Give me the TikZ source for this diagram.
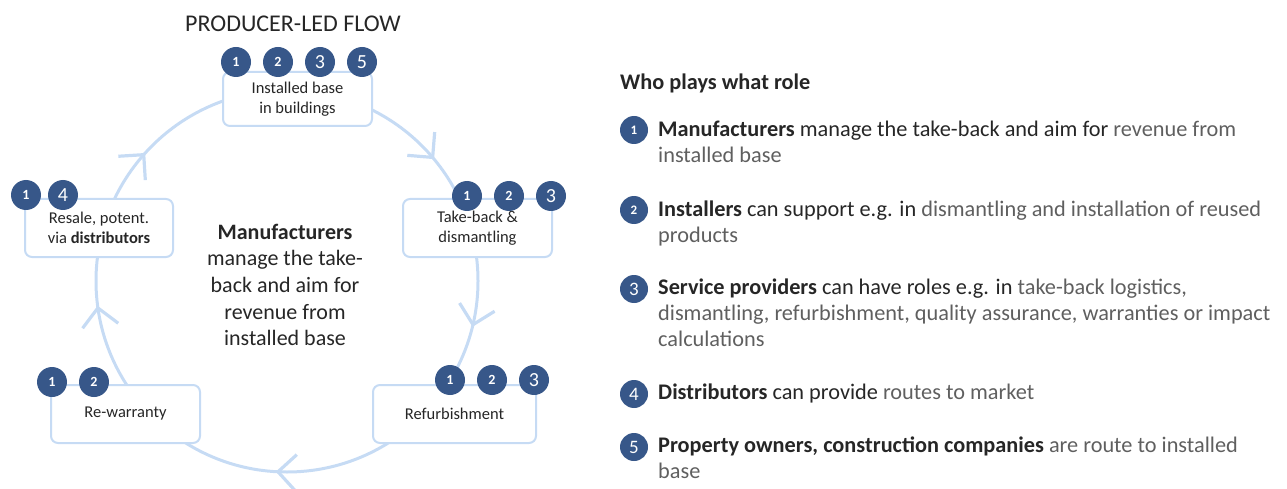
\documentclass[tikz,border=0pt]{standalone}
\usepackage{fontspec}
\setmainfont{Carlito}
\usetikzlibrary{decorations.markings}
\definecolor{ringblue}{RGB}{198,219,244}
\definecolor{badgeblue}{RGB}{55,87,137}
\definecolor{inkdark}{RGB}{38,38,38}
\definecolor{inkgrey}{RGB}{95,95,95}

\begin{document}
\begin{tikzpicture}[x=1pt,y=1pt,
  ring/.style={draw=ringblue, line width=3pt},
  chev/.style={draw=ringblue, line width=3.2pt},
  stage/.style={draw=ringblue, line width=2pt, fill=white, rounded corners=7pt,
    align=center, text=inkdark, inner sep=0pt,
    font=\fontsize{16.5}{20.5}\selectfont},
  badge/.style={circle, fill=badgeblue, text=white, minimum size=30pt, inner sep=0pt},
  nsmall/.style={badge, font=\fontsize{14}{14}\selectfont\bfseries},
  nlarge/.style={badge, font=\fontsize{20}{20}\selectfont},
  lsmall/.style={nsmall, minimum size=28pt, font=\fontsize{13}{13}\selectfont\bfseries},
  llarge/.style={nlarge, minimum size=28pt, font=\fontsize{19}{19}\selectfont},
  legend/.style={anchor=north west, align=left, inner sep=0pt, text=inkdark,
    font=\fontsize{22.3}{26}\selectfont},
]
\useasboundingbox (0,0) rectangle (1287,488);

% title
\node[text=inkdark, font=\fontsize{24}{24}\selectfont] (title) at (293,464) {PRODUCER-LED FLOW};

% circular flow with open chevrons (clockwise)
\draw[ring, postaction={decorate}, decoration={markings,
    mark=at position 0.0367 with {\draw[chev] (-18,18) -- (0,0) -- (-18,-18);},
    mark=at position 0.2575 with {\draw[chev] (-18,18) -- (0,0) -- (-18,-18);},
    mark=at position 0.4775 with {\draw[chev] (-18,18) -- (0,0) -- (-18,-18);},
    mark=at position 0.615 with {\draw[chev] (-18,18) -- (0,0) -- (-18,-18);},
    mark=at position 0.888 with {\draw[chev] (-18,18) -- (0,0) -- (-18,-18);}}]
  (478,207) arc[start angle=0, end angle=-360, radius=191];

% stages
\node[stage, minimum width=149pt, minimum height=54pt] (ib) at (297.5,389) {Installed base\\in buildings};
\node[stage, minimum width=149pt, minimum height=58pt] (tb) at (477.5,260) {Take-back \&\\dismantling};
\node[stage, minimum width=163pt, minimum height=58pt] (rf) at (454.5,74) {Refurbishment};
\node[stage, minimum width=149pt, minimum height=58pt] (rw) at (125.5,74) {Re-warranty};
\node[stage, minimum width=148pt, minimum height=58pt] (rs) at (99,260) {Resale, potent.\\via \textbf{distributors}};

% role badges on the stages
\node[nsmall] (ib1) at (236,426) {1};
\node[nsmall] (ib2) at (278,426) {2};
\node[nlarge] (ib3) at (320,426) {3};
\node[nlarge] (ib5) at (362,426) {5};

\node[nsmall] (tb1) at (467,292) {1};
\node[nsmall] (tb2) at (509,292) {2};
\node[nlarge] (tb3) at (551,292) {3};

\node[nsmall] (rf1) at (450,108) {1};
\node[nsmall] (rf2) at (492,108) {2};
\node[nlarge] (rf3) at (534,108) {3};

\node[nsmall] (rw1) at (52,106) {1};
\node[nsmall] (rw2) at (94,106) {2};

\node[nsmall] (rs1) at (26,293) {1};
\node[nlarge] (rs4) at (63,293) {4};

% centre statement
\node[align=center, text=inkdark, inner sep=0pt, font=\fontsize{22}{26.7}\selectfont] (core) at (285,203)
  {\textbf{Manufacturers}\\manage the take-\\back and aim for\\revenue from\\installed base};

% legend
\node[anchor=base west, inner sep=0pt, text=inkdark, font=\fontsize{22.3}{26}\selectfont\bfseries] (lhead) at (620,398) {Who plays what role};

\node[lsmall] (l1) at (634,358) {1};
\node[legend] (t1) at (658,367)
  {\textbf{Manufacturers} manage the take-back and aim for \textcolor{inkgrey}{revenue from}\\
   \textcolor{inkgrey}{installed base}};

\node[lsmall] (l2) at (634,278) {2};
\node[legend] (t2) at (658,287)
  {\textbf{Installers} can support e.g. in \textcolor{inkgrey}{dismantling and installation of reused}\\
   \textcolor{inkgrey}{products}};

\node[llarge] (l3) at (634,199) {3};
\node[legend] (t3) at (658,209)
  {\textbf{Service providers} can have roles e.g. in \textcolor{inkgrey}{take-back logistics,}\\
   \textcolor{inkgrey}{dismantling, refurbishment, quality assurance, warranties or impact}\\
   \textcolor{inkgrey}{calculations}};

\node[llarge] (l4) at (634,94) {4};
\node[legend] (t4) at (658,104)
  {\textbf{Distributors} can provide \textcolor{inkgrey}{routes to market}};

\node[llarge] (l5) at (634,41) {5};
\node[legend] (t5) at (658,51)
  {\textbf{Property owners, construction companies} \textcolor{inkgrey}{are route to installed}\\
   \textcolor{inkgrey}{base}};
\end{tikzpicture}
\end{document}
